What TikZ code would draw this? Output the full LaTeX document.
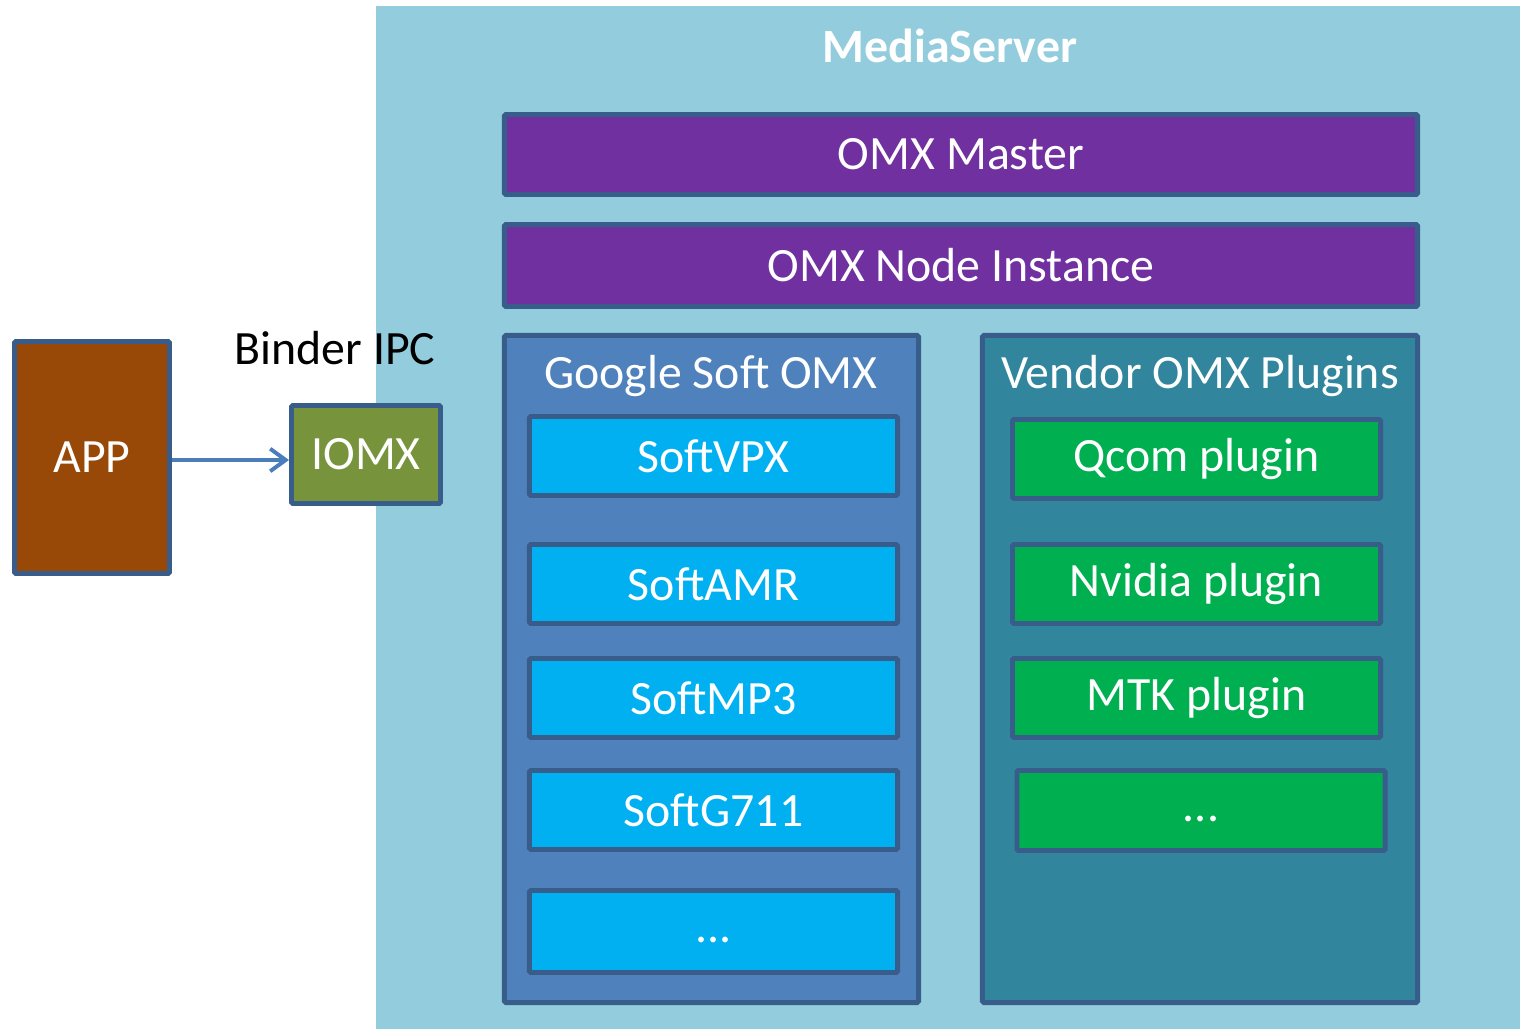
\documentclass[tikz,border=0pt]{standalone}
\usepackage{fontspec}
\setmainfont{Carlito}
\usetikzlibrary{arrows.meta}

\definecolor{serverbg}{HTML}{93CDDD}
\definecolor{boxborder}{HTML}{385D8A}
\definecolor{omxpurple}{HTML}{7030A0}
\definecolor{googlebg}{HTML}{4F81BD}
\definecolor{vendorbg}{HTML}{31859C}
\definecolor{softblue}{HTML}{00B0F0}
\definecolor{plugingreen}{HTML}{00B050}
\definecolor{appbrown}{HTML}{984807}
\definecolor{iomxgreen}{HTML}{77933C}
\definecolor{arrowblue}{HTML}{4A7EBB}

\begin{document}
\begin{tikzpicture}[x=0.025cm,y=-0.025cm,
  every node/.style={font=\fontsize{34}{40}\selectfont},
  base box/.style={rectangle,draw=boxborder,line width=3.5pt,inner sep=0pt,
    rounded corners=1pt,text=white},
  omx box/.style={base box,fill=omxpurple,minimum width=22.825cm},
  panel box/.style={base box,fill=#1,minimum height=16.675cm},
  soft box/.style={base box,fill=softblue,minimum width=9.2cm,minimum height=1.975cm},
  plugin box/.style={base box,fill=plugingreen,minimum width=9.2cm,minimum height=1.975cm},
  panel title/.style={text=white}]

\useasboundingbox (0,0) rectangle (1520,1029);

% MediaServer background
\fill[serverbg] (376,6) rectangle (1520,1029);
\node[panel title,font=\fontsize{34}{40}\selectfont\bfseries] (mediaserver) at (950,46) {MediaServer};

% OMX layers
\node[omx box,minimum height=2.0cm] (master) at (961,154.5) {OMX Master};
\node[omx box,minimum height=2.05cm] (instance) at (961,265.5) {OMX Node Instance};

% Google soft components
\node[panel box=googlebg,minimum width=10.35cm] (google) at (711.5,669) {};
\node[panel title] (googletitle) at (711,376) {Google Soft OMX};
\node[soft box] (softvpx) at (713.5,456) {SoftVPX};
\node[soft box] (softamr) at (713.5,584) {SoftAMR};
\node[soft box] (softmp3) at (713.5,698) {SoftMP3};
\node[soft box] (softg711) at (713.5,810) {SoftG711};
\node[soft box,minimum height=2.05cm] (softmore) at (713.5,931.5) {\strut...};

% vendor plugins
\node[panel box=vendorbg,minimum width=10.875cm] (vendor) at (1200,669) {};
\node[panel title] (vendortitle) at (1200,376) {Vendor OMX Plugins};
\node[plugin box] (qcom) at (1196.5,459) {Qcom plugin};
\node[plugin box] (nvidia) at (1196.5,584) {Nvidia plugin};
\node[plugin box] (mtk) at (1196.5,698) {MTK plugin};
\node[plugin box,minimum height=2.0cm] (pluginmore) at (1201,810.5) {\strut...};

% client side
\node[base box,fill=appbrown,minimum width=3.875cm,minimum height=5.8cm] (app) at (92,457.5) {APP};
\node[base box,fill=iomxgreen,minimum width=3.725cm,minimum height=2.45cm] (iomx) at (366,454.5) {IOMX};
\node (binder) at (335,348) {Binder IPC};

\draw[arrowblue,line width=2.8pt,-{Straight Barb[length=11pt,width=16pt,line width=2.8pt]}]
  (app.east |- 0,460) -- (iomx.west |- 0,460);

\end{tikzpicture}
\end{document}
